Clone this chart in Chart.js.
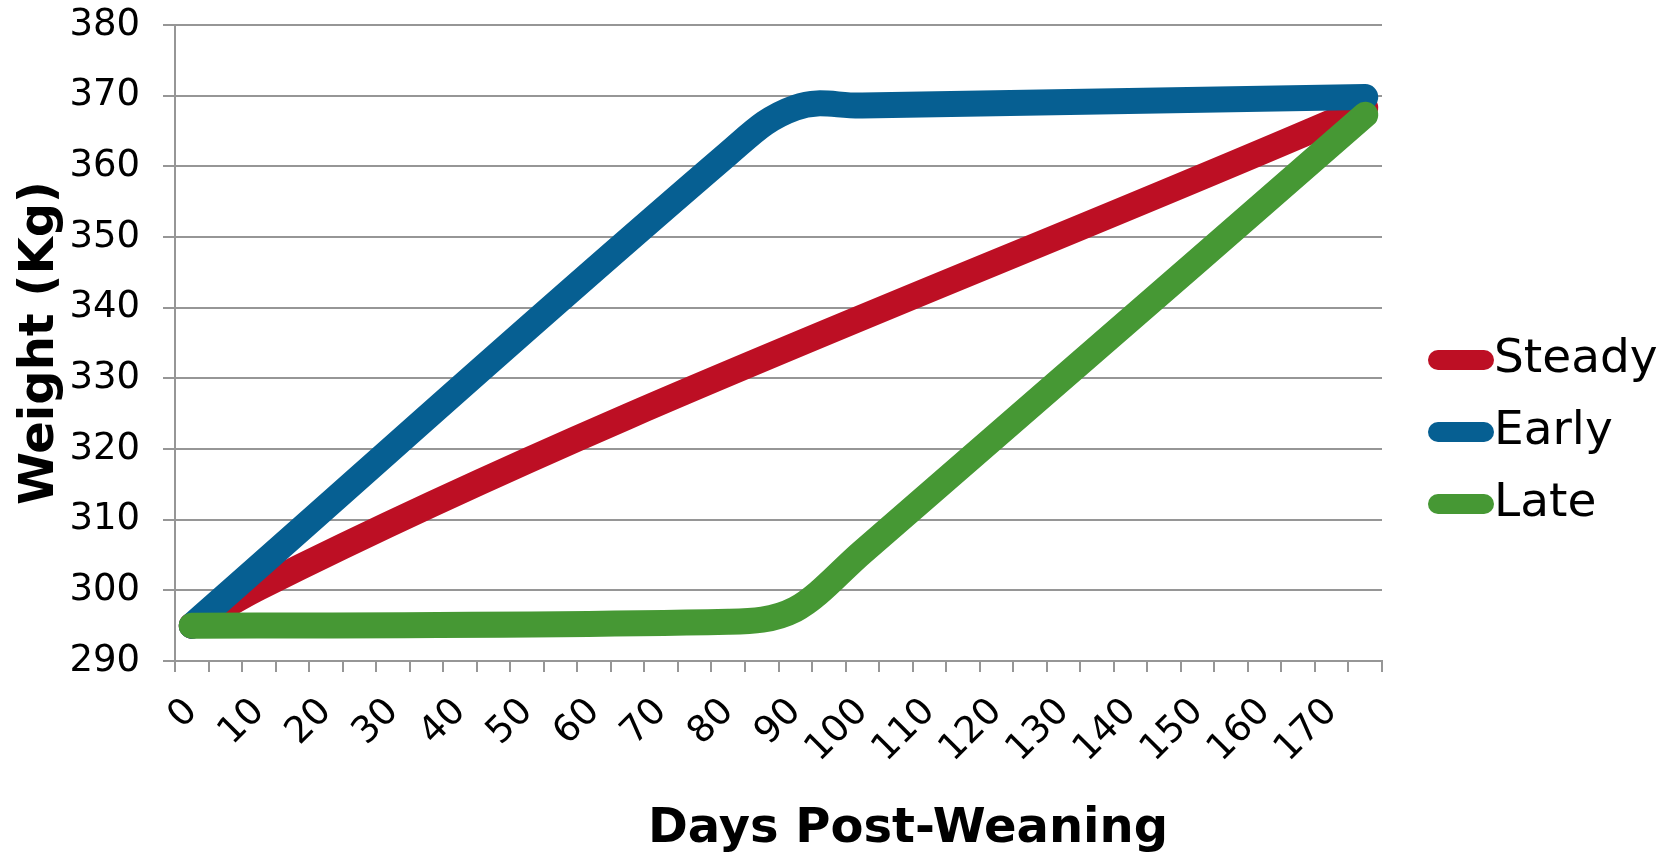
<!DOCTYPE html>
<html>
<head>
<meta charset="utf-8">
<script src="https://cdn.jsdelivr.net/npm/chart.js@4.4.1/dist/chart.umd.min.js"></script>
<style>
  html, body { margin: 0; padding: 0; background: #ffffff; }
  #wrap { width: 1680px; height: 854px; }
</style>
</head>
<body>
<div id="wrap"><canvas id="c" width="1680" height="854"></canvas></div>
<script>
// ---- data ----
const dayCategories = [0, 5, 10, 15, 20, 25, 30, 35, 40, 45, 50, 55, 60, 65, 70, 75, 80, 85,
                       90, 95, 100, 105, 110, 115, 120, 125, 130, 135, 140, 145, 150, 155, 160, 165, 170, 175];
const shownTickLabels = [0, 10, 20, 30, 40, 50, 60, 70, 80, 90, 100, 110, 120, 130, 140, 150, 160, 170];

const steadyDays   = [0, 10, 175];
const steadyWeight = [295, 300.4, 368.3];

const earlyDays    = [0, 80, 90, 100, 175];
const earlyWeight  = [295, 361.8, 368.3, 368.6, 369.8];

const lateDays     = [0, 80, 90, 100, 175];
const lateWeight   = [295, 295.55, 297.3, 305.4, 367.3];

const seriesNames  = ['Steady', 'Early', 'Late'];
const yMin = 290, yMax = 380, yStep = 10;

// ---- styling ----
const FONT = "'DejaVu Sans', Verdana, sans-serif";
const colors = ['#BD0F24', '#065F92', '#469834'];
const gridColor = '#969696';
const legendFontSize = 47;
const legendBoxW = 30;
const legendPad = 25;

function makePill(color) {
  const c = document.createElement('canvas');
  c.width = legendBoxW + legendFontSize;
  c.height = 22;
  const g = c.getContext('2d');
  g.fillStyle = color;
  const w = 66, h = 20, x = c.width - w, y = 1, r = 10;
  g.beginPath();
  g.moveTo(x + r, y);
  g.lineTo(x + w - r, y);
  g.arc(x + w - r, y + r, r, -Math.PI / 2, Math.PI / 2);
  g.lineTo(x + r, y + h);
  g.arc(x + r, y + r, r, Math.PI / 2, Math.PI * 1.5);
  g.closePath();
  g.fill();
  return c;
}
const pills = colors.map(makePill);

function toPoints(days, weights) {
  return days.map((d, i) => ({ x: String(d), y: weights[i] }));
}

function lineDataset(name, days, weights, color, order, mode) {
  return {
    label: name,
    data: toPoints(days, weights),
    borderColor: color,
    backgroundColor: color,
    borderWidth: 26,
    borderCapStyle: 'round',
    borderJoinStyle: 'round',
    tension: 0.4,
    cubicInterpolationMode: mode,
    pointRadius: 0,
    pointHoverRadius: 0,
    fill: false,
    order: order
  };
}

const layoutPlugin = {
  id: 'layoutTweaks',
  afterLayout(chart) {
    const lg = chart.legend;
    if (lg) {
      const left = 1470.5 - legendBoxW - legendPad;
      lg.left = left;
      lg.right = left + lg.width;
      lg.top = 5;
      lg.bottom = chart.height + 5;
      lg.height = chart.height;
    }
    const xs = chart.scales.x;
    if (xs && !xs._shiftedTitle) {
      const orig = xs.drawTitle;
      xs.drawTitle = function () {
        const shift = 908 - (this.left + this.right) / 2;
        this.ctx.save();
        this.ctx.translate(shift, 0);
        orig.call(this);
        this.ctx.restore();
      };
      xs._shiftedTitle = true;
    }
  }
};

new Chart(document.getElementById('c'), {
  type: 'line',
  data: {
    labels: dayCategories.map(String),
    datasets: [
      lineDataset(seriesNames[0], steadyDays, steadyWeight, colors[0], 2, 'monotone'),
      lineDataset(seriesNames[1], earlyDays, earlyWeight, colors[1], 1, 'default'),
      lineDataset(seriesNames[2], lateDays, lateWeight, colors[2], 0, 'monotone')
    ]
  },
  plugins: [layoutPlugin],
  options: {
    responsive: false,
    devicePixelRatio: 1,
    animation: false,
    events: [],
    layout: { padding: { left: 0, top: 25, right: 298, bottom: 0 } },
    plugins: {
      tooltip: { enabled: false },
      title: { display: false },
      legend: {
        display: true,
        position: 'chartArea',
        align: 'center',
        labels: {
          color: '#000000',
          font: { family: FONT, size: legendFontSize },
          usePointStyle: true,
          pointStyleWidth: legendBoxW,
          boxHeight: 20,
          padding: legendPad,
          generateLabels(chart) {
            const items = Chart.defaults.plugins.legend.labels.generateLabels(chart);
            items.forEach(it => { it.pointStyle = pills[it.datasetIndex]; it.lineWidth = 0; });
            return items.sort((a, b) => a.datasetIndex - b.datasetIndex);
          }
        }
      }
    },
    scales: {
      x: {
        type: 'category',
        offset: true,
        grid: {
          offset: true,
          drawOnChartArea: false,
          drawTicks: true,
          tickLength: 11,
          tickColor: gridColor,
          lineWidth: 2
        },
        border: { display: true, color: gridColor, width: 2 },
        ticks: {
          autoSkip: false,
          minRotation: 45,
          maxRotation: 45,
          padding: 18,
          color: '#000000',
          font: { family: FONT, size: 37 },
          callback(value, index) {
            const d = dayCategories[index];
            return shownTickLabels.includes(d) ? String(d) : '';
          }
        },
        title: {
          display: true,
          text: 'Days Post-Weaning',
          color: '#000000',
          font: { family: FONT, size: 48, weight: 'bold', lineHeight: 1.0 },
          padding: { top: 0, bottom: 0 }
        },
        afterFit(scale) { scale.height = 193; scale.paddingLeft = 0; scale.paddingRight = 0; }
      },
      y: {
        type: 'linear',
        min: yMin,
        max: yMax,
        grid: {
          color: gridColor,
          lineWidth: 2,
          drawTicks: true,
          tickLength: 12,
          tickColor: gridColor
        },
        border: { display: true, color: gridColor, width: 2 },
        ticks: {
          stepSize: yStep,
          padding: 23,
          color: '#000000',
          font: { family: FONT, size: 37 }
        },
        title: {
          display: true,
          text: 'Weight (Kg)',
          color: '#000000',
          font: { family: FONT, size: 48, weight: 'bold' },
          padding: { top: 12, bottom: 0 }
        },
        afterFit(scale) { scale.width = 175; scale.paddingTop = 0; scale.paddingBottom = 0; }
      }
    }
  }
});
</script>
</body>
</html>
